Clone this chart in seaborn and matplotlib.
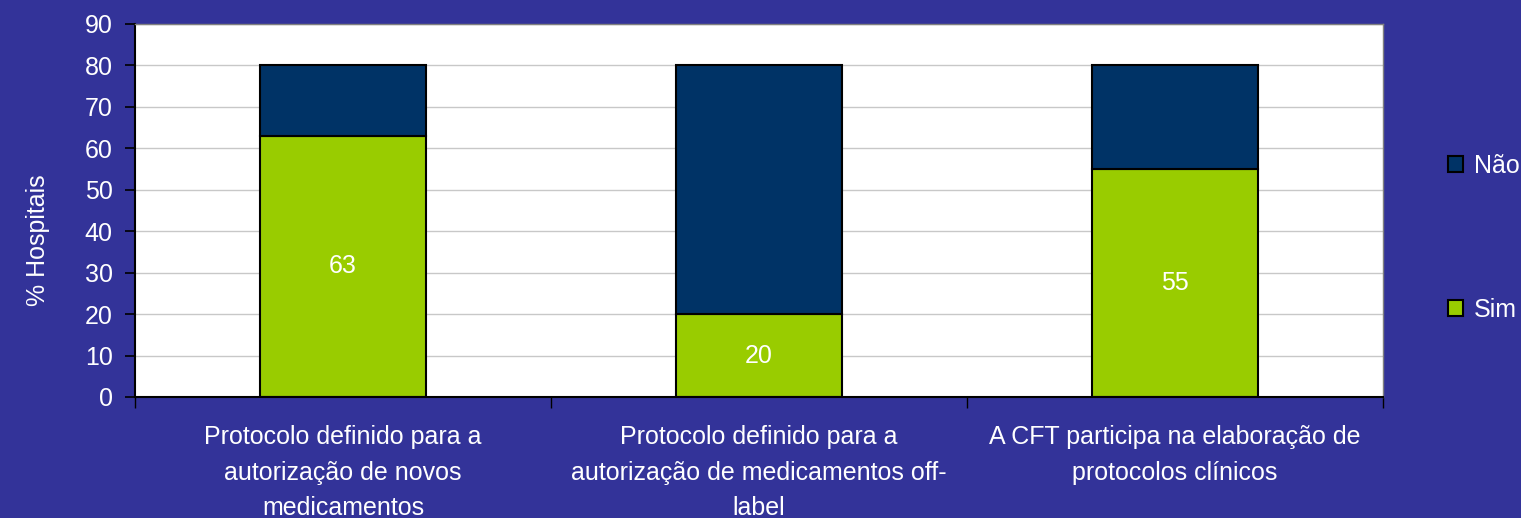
import matplotlib
matplotlib.use("Agg")
import matplotlib.pyplot as plt
import matplotlib.patches as mpatches
import seaborn as sns
import numpy as np

# Data
categories = [
    "Protocolo definido para a\nautorização de novos\nmedicamentos",
    "Protocolo definido para a\nautorização de medicamentos off-\nlabel",
    "A CFT participa na elaboração de\nprotocolos clínicos",
]
sim = [63, 20, 55]
nao = [17, 60, 25]
series_names = ["Não", "Sim"]

bg = "#333399"
green = "#99cc00"
navy = "#003366"

sns.set_style("white")
plt.rcParams["font.family"] = ["Liberation Sans", "DejaVu Sans"]

fig = plt.figure(figsize=(15.21, 5.18), dpi=100, facecolor=bg)
ax = fig.add_axes([135 / 1521, 1 - 397 / 518, (1383 - 135) / 1521, (397 - 24) / 518])
ax.set_facecolor("white")

sns.barplot(x=categories, y=sim, color=green, width=0.4, edgecolor="black",
            linewidth=1.5, ax=ax, saturation=1)
sns.barplot(x=categories, y=nao, bottom=sim, color=navy, width=0.4,
            edgecolor="black", linewidth=1.5, ax=ax, saturation=1)

# value labels on Sim segments
for i, v in enumerate(sim):
    ax.text(i, v / 2, str(v), ha="center", va="center", color="white", fontsize=18)

ax.set_xlim(-0.5, 2.5)
ax.set_ylim(0, 90)
ax.set_yticks(np.arange(0, 91, 10))
ax.yaxis.grid(True, color="#c8c8c8", linewidth=1)
ax.set_axisbelow(True)

ax.tick_params(axis="y", colors="black", labelcolor="white", labelsize=18,
               length=7, width=1.2, direction="out", left=True, pad=9)
ax.set_xticks(range(3))
ax.set_xticklabels(categories, linespacing=1.62)
ax.tick_params(axis="x", which="major", length=0, labelcolor="white",
               labelsize=18, pad=20)
ax.set_xticks([-0.5, 0.5, 1.5, 2.5], minor=True)
ax.tick_params(axis="x", which="minor", length=8, width=1, color="black",
               direction="out", bottom=True)

ax.set_ylabel("% Hospitais", color="white", fontsize=18)
ax.yaxis.set_label_coords(-0.068, 0.42)
ax.set_xlabel("")

for s in ["left", "bottom"]:
    ax.spines[s].set_color("black")
    ax.spines[s].set_linewidth(1.5)
for s in ["top", "right"]:
    ax.spines[s].set_color("#808080")
    ax.spines[s].set_linewidth(1)

handles = [mpatches.Patch(facecolor=navy, edgecolor="black", linewidth=1.5),
           mpatches.Patch(facecolor=green, edgecolor="black", linewidth=1.5)]
fig.legend(handles, series_names, loc="center left",
           bbox_to_anchor=(1435 / 1521, 1 - 238 / 518), frameon=False,
           fontsize=18, labelcolor="white", handlelength=0.6, handleheight=0.6,
           handletextpad=0.45, labelspacing=4.8, borderpad=0)

fig.savefig("out.png", dpi=100, facecolor=bg)
